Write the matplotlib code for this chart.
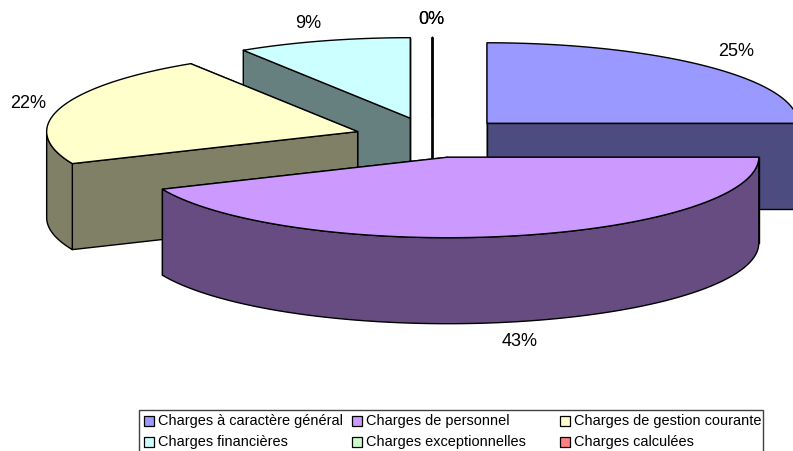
import numpy as np
import matplotlib
matplotlib.use('Agg')
import matplotlib.pyplot as plt
from matplotlib.patches import Polygon, Rectangle

plt.rcParams['font.family'] = ['Liberation Sans', 'DejaVu Sans']

categories = ['Charges à caractère général', 'Charges de personnel', 'Charges de gestion courante',
              'Charges financières', 'Charges exceptionnelles', 'Charges calculées']
values = [25.0, 43.49, 22.49, 9.02, 0.0, 0.0]
colors = ['#9999FF', '#CC99FF', '#FFFFCC', '#CCFFFF', '#CCFFCC', '#FF8080']
shades = ['#4C4C80', '#664C80', '#808066', '#668080', '#668066', '#804040']

# pie geometry in pixels
cx, cy = 432, 137.5
rx, ry = 311, 80.5
depth = 86
explode = 0.25

label_pos = [(736, 51), (520, 342), (28, 104), (308, 23.5), (431, 20), (431, 20)]
draw_order = [3, 4, 5, 2, 0, 1]

fig = plt.figure(figsize=(7.93, 4.51), dpi=100)
ax = fig.add_axes([0, 0, 1, 1])
ax.set_xlim(0, 793)
ax.set_ylim(451, 0)
ax.axis('off')

cum = np.cumsum([0] + values) / sum(values) * 2 * np.pi


def rim(ox, oy, a, b, dz=0):
    t = np.linspace(a, b, 80)
    return np.column_stack([ox + rx * np.sin(t), oy - ry * np.cos(t) + dz])


def face(pts, color, z):
    ax.add_patch(Polygon(pts, closed=True, facecolor=color, edgecolor='black',
                         linewidth=1.0, joinstyle='round', zorder=z))


for n, i in enumerate(draw_order):
    a, b = cum[i], cum[i + 1]
    mid = (a + b) / 2
    ox = cx + explode * rx * np.sin(mid)
    oy = cy - explode * ry * np.cos(mid)
    z = n + 1
    top = np.vstack([[ox, oy], rim(ox, oy, a, b)])
    # cut faces, the one nearer the viewer goes last
    for edge in sorted((a, b), key=lambda e: -np.cos(e)):
        px, py = ox + rx * np.sin(edge), oy - ry * np.cos(edge)
        face([(ox, oy), (px, py), (px, py + depth), (ox, oy + depth)], shades[i], z)
    # outer wall, front half only
    wa, wb = max(a, np.pi / 2), min(b, 3 * np.pi / 2)
    if wb > wa:
        face(np.vstack([rim(ox, oy, wa, wb), rim(ox, oy, wb, wa, depth)]), shades[i], z)
    face(top, colors[i], z)

for i, (x, y) in enumerate(label_pos):
    ax.text(x, y, '%.0f%%' % values[i], fontsize=13, ha='center', va='center', color='black', zorder=20)

# legend box, cut by the bottom of the picture
ax.add_patch(Rectangle((138.5, 409.5), 624, 60, facecolor='white', edgecolor='#404040', linewidth=1.0, zorder=21))
col_x = [144, 352, 560]
row_y = [421, 442]
for i, name in enumerate(categories):
    x, y = col_x[i % 3], row_y[i // 3]
    ax.add_patch(Rectangle((x, y - 5), 10, 10, facecolor=colors[i], edgecolor='black', linewidth=0.9, zorder=22))
    ax.text(x + 13.5, y, name, fontsize=10.45, ha='left', va='center', color='black', zorder=22)

fig.savefig('out.png', dpi=100)
